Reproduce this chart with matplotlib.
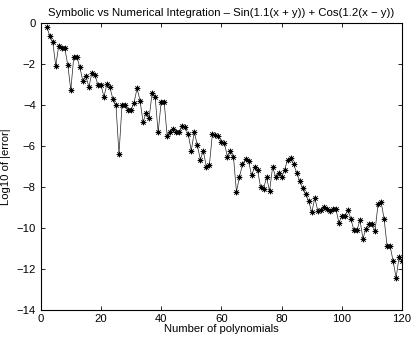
import matplotlib
matplotlib.use('Agg')
import matplotlib.pyplot as plt

# Number of polynomials (x) and log10 of the error (y)
n_poly = list(range(2, 121))
log_err = [
    -0.16, -0.60, -0.89, -2.08, -1.09, -1.22, -1.22, -2.03, -3.26, -1.63,
    -1.63, -2.15, -2.80, -2.57, -3.11, -2.44, -2.52, -3.00, -3.00, -3.59,
    -2.97, -3.13, -3.72, -4.00, -6.40, -4.00, -4.00, -4.24, -4.24, -3.88,
    -3.18, -3.78, -4.84, -4.37, -4.65, -3.39, -3.60, -5.33, -3.86, -3.86,
    -5.51, -5.30, -5.19, -5.30, -5.33, -5.02, -5.09, -5.43, -6.23, -5.30,
    -5.96, -6.66, -6.23, -7.02, -6.94, -5.43, -5.45, -5.51, -5.79, -5.87,
    -6.53, -6.25, -6.53, -8.24, -7.51, -6.90, -6.64, -6.72, -7.43, -7.05,
    -7.18, -8.00, -8.08, -7.54, -8.20, -7.02, -7.51, -7.31, -7.54, -7.15,
    -6.66, -6.58, -6.90, -7.31, -7.72, -8.05, -8.36, -8.70, -9.25, -8.54,
    -9.16, -9.11, -8.98, -9.10, -9.18, -9.07, -9.07, -9.75, -9.44, -9.42,
    -9.11, -9.58, -10.12, -10.12, -9.63, -10.53, -10.04, -9.83, -9.83, -10.16,
    -8.85, -8.73, -9.55, -10.89, -10.89, -11.63, -12.44, -11.43, -11.63,
]
x_ticks = [0, 20, 40, 60, 80, 100, 120]
y_ticks = [-14, -12, -10, -8, -6, -4, -2, 0]

plt.rcParams['font.family'] = ['Liberation Sans', 'DejaVu Sans']
plt.rcParams['font.size'] = 8.1

fig = plt.figure(figsize=(4.15, 3.39), dpi=100)
ax = fig.add_axes([0.098, 0.087, 0.871, 0.844])

ax.plot(n_poly, log_err, color='#222222', linewidth=0.5,
        marker=(8, 2, 0), markersize=4, markeredgewidth=0.5,
        markeredgecolor='black')

ax.set_xlim(0, 120)
ax.set_ylim(-14, 0)
ax.set_xticks(x_ticks)
ax.set_yticks(y_ticks)
ax.tick_params(direction='in', top=True, right=True, length=3, width=0.6)
for s in ax.spines.values():
    s.set_linewidth(0.8)

ax.set_title("Symbolic vs Numerical Integration \u2013 Sin(1.1(x + y)) + Cos(1.2(x \u2212 y))",
             fontsize=8.2, pad=5)
ax.set_xlabel("Number of polynomials", labelpad=0)
ax.set_ylabel("Log10 of |error|")
ax.yaxis.set_label_coords(-0.082, 0.5)

fig.savefig('out.png', dpi=100)
